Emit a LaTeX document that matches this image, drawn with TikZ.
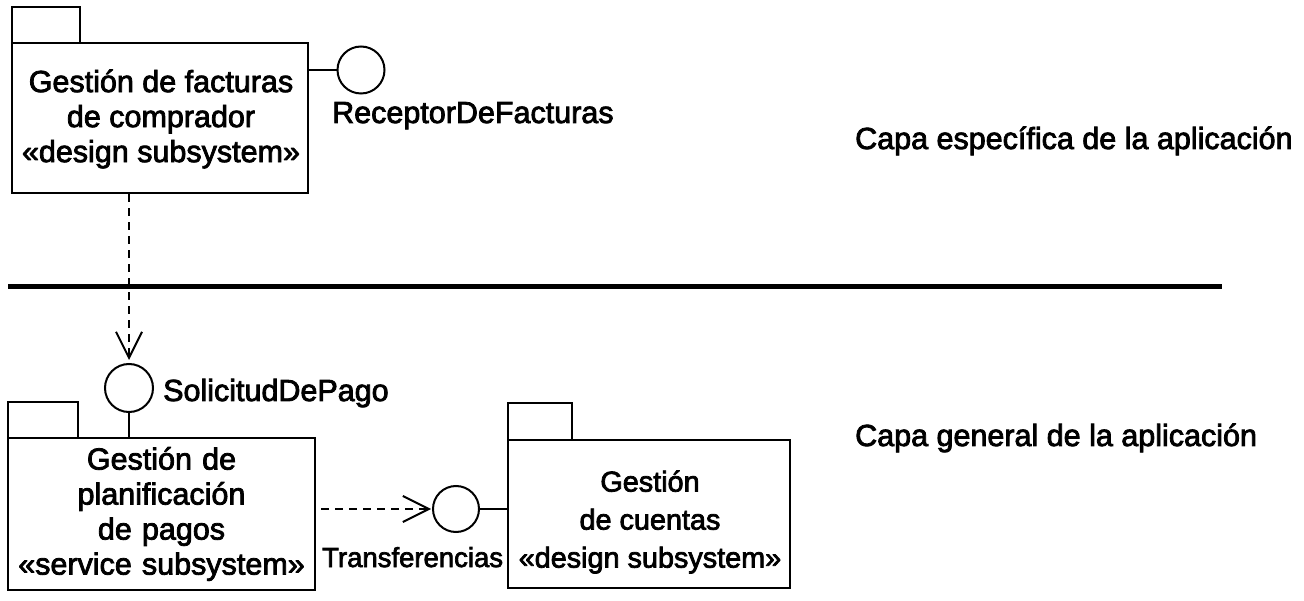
\documentclass[tikz,border=0pt]{standalone}
\usepackage{fontspec}
\setmainfont{Liberation Sans}[FakeBold=2.6]
\usetikzlibrary{arrows.meta}
\begin{document}
\begin{tikzpicture}[x=1pt,y=-1pt,
  pkgbox/.style={draw, line width=2.7pt, inner sep=0pt, rectangle},
  iface/.style={draw, line width=2pt, circle, inner sep=0pt},
  lbl/.style={inner sep=0pt, font=\fontsize{30.5}{35}\selectfont},
  boxtext/.style={inner sep=0pt, align=center, font=\fontsize{30.5}{35}\selectfont},
  link/.style={line width=2.2pt},
  dep/.style={line width=2pt, dash pattern=on 8pt off 6pt, -{Straight Barb[length=26pt,width=26pt,line width=2pt]}}
]
\useasboundingbox (0,0) rectangle (1304,601);
% top package
\node[pkgbox, minimum width=68pt, minimum height=36pt] (gftab) at (46,25) {};
\node[pkgbox, minimum width=296pt, minimum height=150pt] (gf) at (160,118) {};
\node[boxtext] (gftext) at (161,119) {Gestión de facturas\\de comprador\\«design subsystem»};
\node[iface, minimum size=47pt] (rdf) at (361,70) {};
\draw[link] (gf.east |- rdf) -- (rdf.west);
\node[lbl, anchor=base west] (rdflbl) at (332,123) {ReceptorDeFacturas};
% separator
\coordinate (sepL) at (8,287);
\coordinate (sepR) at (1222,287);
\draw[line width=5pt] (sepL) -- (sepR);
\node[lbl, anchor=base west] (capa1) at (855,149) {Capa específica de la aplicación};
\node[lbl, anchor=base west] (capa2) at (855,446) {Capa general de la aplicación};
% bottom-left package
\node[iface, minimum size=48pt] (sdp) at (129,388) {};
\node[lbl, anchor=base west] (sdplbl) at (163,401) {SolicitudDePago};
\node[pkgbox, minimum width=70pt, minimum height=36pt] (gptab) at (43,420) {};
\node[pkgbox, minimum width=307pt, minimum height=152pt] (gp) at (161.5,514) {};
\node[boxtext, text width=300pt] (gptext) at (gp.center) {Gestión de\\planificación\\de pagos\\«service subsystem»};
\draw[link] (sdp.south) -- (sdp.south |- gp.north);
\draw[dep, shorten >=3pt] (sdp.north |- gf.south) -- (sdp.north);
% right package
\node[iface, minimum size=46pt] (tr) at (456,509) {};
\node[pkgbox, minimum width=64pt, minimum height=37pt] (gctab) at (540,421.5) {};
\node[pkgbox, minimum width=282pt, minimum height=148pt] (gc) at (649,514) {};
\node[boxtext, font=\fontsize{28.8}{38}\selectfont] (gctext) at (650,522) {Gestión\\de cuentas\\«design subsystem»};
\draw[link] (tr.east) -- (gc.west |- tr);
\draw[dep, shorten <=5pt, shorten >=1pt] (gp.east |- tr) -- (tr.west);
\node[lbl, anchor=base west, font=\fontsize{27.5}{35}\selectfont] (trlbl) at (322,567) {Transferencias};
\end{tikzpicture}
\end{document}
